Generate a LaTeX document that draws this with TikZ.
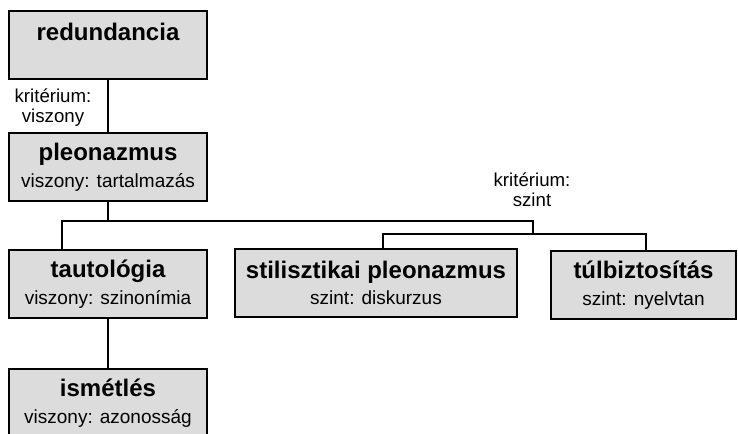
\documentclass[tikz,border=0pt]{standalone}
\usepackage{fontspec}
\setmainfont{Liberation Sans}
\usetikzlibrary{positioning}
\definecolor{boxgray}{RGB}{220,220,220}
\tikzset{every picture/.style={/utils/exec={\fontsize{14.25}{20}\selectfont}}}
\newcommand{\term}[2]{{\fontsize{18}{20}\selectfont\bfseries #1}\\#2}

\begin{document}
\begin{tikzpicture}[x=0.75pt, y=-0.75pt]
  \tikzstyle{concept} = [rectangle, draw=black, fill=boxgray, line width=1.5pt,
    minimum width=148.5pt, minimum height=51pt, align=center, inner sep=0pt]
  \tikzstyle{link} = [line width=1.5pt]
  \tikzstyle{crit} = [align=center, inner sep=0pt, font=\fontsize{14}{15}\selectfont]

  \clip (0,0) rectangle (738,434);

  \node (redund) [concept] at (108,45.5) {\term{redundancia}{}};
  \node (pleon) [concept] at (108,167) {\term{pleonazmus}{viszony: tartalmazás}};
  \node (tauto) [concept] at (108,284) {\term{tautológia}{viszony: szinonímia}};
  \node (ismet) [concept] at (108,403) {\term{ismétlés}{viszony: azonosság}};
  \node (stilpl) [concept, minimum width=211.5pt] at (376,283) {\term{stilisztikai pleonazmus}{szint: diskurzus}};
  \node (tulbiz) [concept, minimum width=138.75pt] at (643.5,285) {\term{túlbiztosítás}{szint: nyelvtan}};

  \node (crit1) [crit] at (53,108) {kritérium:\\viszony};
  \node (crit2) [crit] at (532,190) {kritérium:\\szint};

  % branch points
  \coordinate (hub1) at (108,221);
  \coordinate (hub2) at (533,234);
  \coordinate (tautoin) at (62,0);
  \coordinate (stilin) at (383,0);
  \coordinate (tulbizin) at (646,0);

  \draw [link] (redund) -- (pleon);
  \draw [link] (pleon.south) -- (hub1);
  \draw [link] (tauto.north -| tautoin) |- (hub1) -| (hub2);
  \draw [link] (stilpl.north -| stilin) |- (hub2) -| (tulbiz.north -| tulbizin);
  \draw [link] (tauto) -- (ismet);
\end{tikzpicture}
\end{document}
